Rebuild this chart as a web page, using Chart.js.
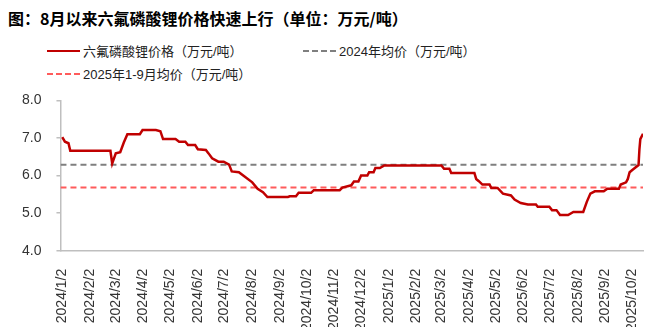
<!DOCTYPE html>
<html>
<head>
<meta charset="utf-8">
<script src="https://cdn.jsdelivr.net/npm/chart.js@4.4.1/dist/chart.umd.min.js"></script>
<style>
  body { margin: 0; width: 660px; height: 327px; overflow: hidden; background: #fff; position: relative; }
  .title { position: absolute; left: 8px; top: 6px; font: bold 16px "Noto Sans CJK SC", sans-serif; color: #000; white-space: nowrap; }
  .lg { position: absolute; display: flex; align-items: center; font: 13px "Liberation Sans", "Noto Sans CJK SC", sans-serif; color: #222; white-space: nowrap; }
  .lg i { display: inline-block; width: 33px; height: 0; margin-right: 3px; }
  #box { position: absolute; left: 0; top: 77px; width: 660px; height: 264px; }
</style>
</head>
<body>
<div class="title">图：8月以来六氟磷酸锂价格快速上行（单位：万元/吨）</div>
<div class="lg" style="left:47px; top:41px;"><i style="border-top:2.5px solid #c00000;"></i>六氟磷酸锂价格（万元/吨）</div>
<div class="lg" style="left:303px; top:41px;"><i style="border-top:2px dashed #7f7f7f;"></i>2024年均价（万元/吨）</div>
<div class="lg" style="left:47px; top:64px;"><i style="border-top:2px dashed #ff5b5b;"></i>2025年1-9月均价（万元/吨）</div>
<div id="box"><canvas id="chart"></canvas></div>
<script>
// LiPF6 price (wan yuan / t)
var dates = ["2024/1/2","2024/1/5","2024/1/9","2024/1/11","2024/2/25","2024/2/27","2024/3/2","2024/3/7","2024/3/11","2024/3/15",
  "2024/3/29","2024/4/1","2024/4/16","2024/4/21","2024/4/24","2024/5/8","2024/5/12","2024/5/19","2024/5/22","2024/5/30",
  "2024/6/2","2024/6/11","2024/6/14","2024/6/18","2024/6/25","2024/7/1","2024/7/7","2024/7/10","2024/7/18","2024/7/24",
  "2024/8/2","2024/8/8","2024/8/14","2024/8/19","2024/9/11","2024/9/13","2024/9/20","2024/9/23","2024/10/7","2024/10/10",
  "2024/11/8","2024/11/11","2024/11/21","2024/11/24","2024/11/29","2024/12/2","2024/12/9","2024/12/11","2024/12/16","2024/12/18",
  "2024/12/23","2024/12/28","2025/3/2","2025/3/5","2025/3/11","2025/3/13","2025/4/8","2025/4/10","2025/4/13","2025/4/17",
  "2025/4/25","2025/4/27","2025/5/4","2025/5/10","2025/5/19","2025/5/23","2025/5/30","2025/6/7","2025/6/16","2025/6/18",
  "2025/7/1","2025/7/4","2025/7/9","2025/7/13","2025/7/22","2025/7/28","2025/8/8","2025/8/12","2025/8/16","2025/8/21",
  "2025/8/31","2025/9/4","2025/9/17","2025/9/19","2025/9/25","2025/9/27","2025/9/29","2025/10/2","2025/10/9","2025/10/10",
  "2025/10/11","2025/10/14"];
var prices = [7.02,6.90,6.86,6.66,6.66,6.32,6.59,6.62,6.88,7.10,
  7.10,7.21,7.21,7.18,6.97,6.97,6.90,6.90,6.81,6.81,
  6.70,6.68,6.59,6.46,6.37,6.37,6.29,6.11,6.09,5.98,
  5.82,5.65,5.56,5.43,5.43,5.45,5.45,5.54,5.54,5.61,
  5.61,5.68,5.74,5.84,5.84,6.00,6.00,6.09,6.09,6.20,
  6.20,6.27,6.27,6.18,6.18,6.07,6.07,5.91,5.85,5.76,
  5.76,5.67,5.67,5.52,5.47,5.36,5.27,5.23,5.23,5.17,
  5.17,5.08,5.08,4.95,4.95,5.03,5.03,5.30,5.52,5.58,
  5.58,5.65,5.65,5.76,5.82,5.91,6.09,6.15,6.28,6.70,
  6.97,7.11];
var avg2024 = 6.29;
var avg2025 = 5.68;
var tickLabels = ["2024/1/2","2024/2/2","2024/3/2","2024/4/2","2024/5/2","2024/6/2","2024/7/2","2024/8/2","2024/9/2","2024/10/2",
  "2024/11/2","2024/12/2","2025/1/2","2025/2/2","2025/3/2","2025/4/2","2025/5/2","2025/6/2","2025/7/2","2025/8/2",
  "2025/9/2","2025/10/2"];
var yTicks = [4, 5, 6, 7, 8];

// day number counted from the first date
function dayNo(s) {
  var p = s.split("/");
  var t = Date.UTC(+p[0], +p[1] - 1, +p[2]);
  return Math.round((t - Date.UTC(2024, 0, 2)) / 86400000);
}

var pts = dates.map(function(d, i){ return {x: dayNo(d), y: prices[i]}; });
var xMin = -2;
var xMax = dayNo(dates[dates.length - 1]);
var tickDays = tickLabels.map(dayNo);

Chart.defaults.font.family = '"Liberation Sans", Arial, sans-serif';
Chart.defaults.color = '#333';

new Chart(document.getElementById("chart"), {
  type: 'line',
  data: {
    datasets: [
      { label: "六氟磷酸锂价格（万元/吨）", data: pts, borderColor: "#c00000", borderWidth: 2.5, pointRadius: 0, tension: 0, order: 0 },
      { label: "2024年均价（万元/吨）", data: [{x: xMin, y: avg2024}, {x: xMax, y: avg2024}], borderColor: "#7f7f7f", borderWidth: 2, borderDash: [6, 4], pointRadius: 0, order: 1 },
      { label: "2025年1-9月均价（万元/吨）", data: [{x: xMin, y: avg2025}, {x: xMax, y: avg2025}], borderColor: "#ff5b5b", borderWidth: 2, borderDash: [6, 4], pointRadius: 0, order: 2 }
    ]
  },
  options: {
    responsive: true,
    maintainAspectRatio: false,
    animation: false,
    layout: { padding: { left: 7, right: 17, top: 0, bottom: 0 } },
    plugins: { legend: { display: false }, tooltip: { enabled: false } },
    scales: {
      x: {
        type: 'linear',
        min: xMin,
        max: xMax,
        afterBuildTicks: function(scale){ scale.ticks = tickDays.map(function(v){ return {value: v}; }); },
        grid: { display: false },
        border: { display: true, color: '#bfbfbf', width: 1.5 },
        ticks: {
          autoSkip: false, maxRotation: 90, minRotation: 90, padding: 10,
          font: { size: 14 },
          callback: function(v, i){ return tickLabels[i]; }
        }
      },
      y: {
        min: 4,
        max: 8,
        afterBuildTicks: function(scale){ scale.ticks = yTicks.map(function(v){ return {value: v}; }); },
        grid: { drawOnChartArea: false, drawTicks: true, tickLength: 4, color: '#bfbfbf', lineWidth: 1.5 },
        border: { display: true, color: '#bfbfbf', width: 1.5 },
        ticks: { padding: 15, font: { size: 14 }, callback: function(v){ return v.toFixed(1); } }
      }
    }
  }
});
</script>
</body>
</html>
